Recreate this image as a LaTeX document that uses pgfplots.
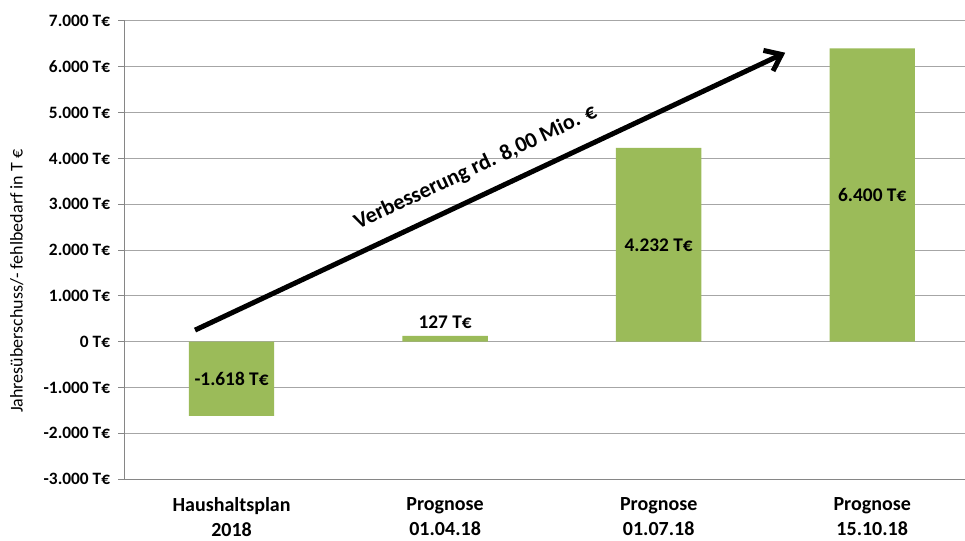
\documentclass[border=0pt]{standalone}
\usepackage{pgfplots}
\pgfplotsset{compat=1.18}
\usetikzlibrary{arrows.meta}
\usepackage{fontspec}
\setmainfont{Carlito}
\definecolor{bargreen}{HTML}{9BBB59}
\definecolor{gridgray}{HTML}{A6A6A6}
\definecolor{axgray}{HTML}{868686}
\begin{document}
\begin{tikzpicture}
\begin{axis}[
  scale only axis, width=640.5pt, height=343.5pt,
  xmin=-0.5, xmax=3.5, ymin=-3000, ymax=7000,
  axis lines*=left,
  axis line style={draw=axgray, line width=0.75pt, -},
  ytick={-3000,-2000,-1000,0,1000,2000,3000,4000,5000,6000,7000},
  yticklabels={-3.000 T€,-2.000 T€,-1.000 T€,0 T€,1.000 T€,2.000 T€,3.000 T€,4.000 T€,5.000 T€,6.000 T€,7.000 T€},
  yticklabel style={font=\bfseries\fontsize{13}{16}\selectfont, xshift=-2.5pt},
  ymajorgrids, grid style={gridgray, line width=0.75pt},
  tick align=outside, major tick length=5pt,
  y tick style={axgray, line width=0.75pt},
  xtick={0,1,2,3},
  xticklabels={{Haushaltsplan\\2018},{Prognose\\01.04.18},{Prognose\\01.07.18},{Prognose\\15.10.18}},
  x tick style={draw=none},
  xticklabel style={align=center, font=\bfseries\fontsize{15}{18.75}\selectfont, yshift=-5pt},
  ylabel={Jahresüberschuss/- fehlbedarf in T €},
  every axis y label/.style={at={(axis description cs:-0.1265,0.432)}, rotate=90, anchor=center, font=\fontsize{13.5}{16}\selectfont},
  ybar, bar width=64pt,
  clip=false,
]
\addplot[fill=bargreen, draw=none] coordinates {(0,-1618) (1,127) (2,4232) (3,6400)};
\node[font=\bfseries\fontsize{14.5}{16}\selectfont] at (axis cs:0,-809) {-1.618 T€};
\node[font=\bfseries\fontsize{14.5}{16}\selectfont, anchor=south, yshift=2pt] at (axis cs:1,127) {127 T€};
\node[font=\bfseries\fontsize{14.5}{16}\selectfont] at (axis cs:2,2116) {4.232 T€};
\node[font=\bfseries\fontsize{14.5}{16}\selectfont] at (axis cs:3,3200) {6.400 T€};
\draw[line width=3.75pt, -{Straight Barb[length=11pt,width=17pt]}] (axis cs:-0.171,253) -- (axis cs:2.5925,6308);
\node[rotate=25.23, anchor=base, inner sep=0pt, font=\bfseries\fontsize{16.5}{18}\selectfont] at (axis cs:1.1546,3677) {Verbesserung rd. 8,00 Mio. €};
\end{axis}
\pgfresetboundingbox
\path ([shift={(-93.56pt,-45.75pt)}]current axis.south west) rectangle ([shift={(-10.5pt,15.75pt)}]current axis.north east);
\end{tikzpicture}
\end{document}
